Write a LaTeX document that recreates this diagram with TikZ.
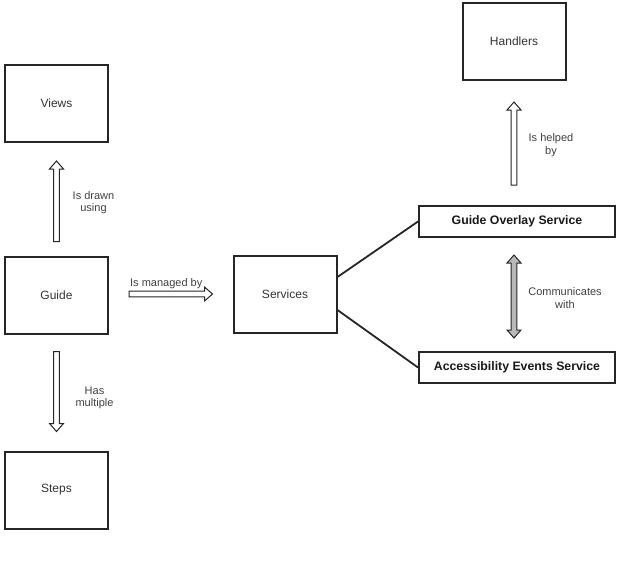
\documentclass[tikz,border=0pt]{standalone}
\usepackage{fontspec}
\setmainfont{Liberation Sans}
\usetikzlibrary{calc}
\begin{document}
\begin{tikzpicture}[x=1pt,y=-1pt,
  box/.style={draw=black!85, line width=2pt, inner sep=0pt, text=black!80,
    font=\fontsize{12}{14}\selectfont},
  bigbox/.style={box, minimum width=103pt, minimum height=77pt},
  widebox/.style={box, minimum width=196pt, minimum height=31pt,
    font=\fontsize{12.3}{14}\bfseries\selectfont, text=black!90},
  hollow/.style={draw=black!85, line width=1pt, fill=white, line join=miter,
    to path={
      ($(\tikztostart)!2.8pt!90:(\tikztotarget)$) --
      ($(\tikztotarget)!8pt!(\tikztostart)!2.8pt!90:(\tikztotarget)$) --
      ($(\tikztotarget)!8pt!(\tikztostart)!7pt!90:(\tikztotarget)$) --
      (\tikztotarget) --
      ($(\tikztotarget)!8pt!(\tikztostart)!7pt!-90:(\tikztotarget)$) --
      ($(\tikztotarget)!8pt!(\tikztostart)!2.8pt!-90:(\tikztotarget)$) --
      ($(\tikztostart)!2.8pt!-90:(\tikztotarget)$) -- cycle}},
  hollowboth/.style={draw=black!85, line width=1pt, fill=gray!55, line join=miter,
    to path={
      (\tikztostart) --
      ($(\tikztostart)!8pt!(\tikztotarget)!7pt!-90:(\tikztotarget)$) --
      ($(\tikztostart)!8pt!(\tikztotarget)!2.8pt!-90:(\tikztotarget)$) --
      ($(\tikztotarget)!8pt!(\tikztostart)!2.8pt!-90:(\tikztotarget)$) --
      ($(\tikztotarget)!8pt!(\tikztostart)!7pt!-90:(\tikztotarget)$) --
      (\tikztotarget) --
      ($(\tikztotarget)!8pt!(\tikztostart)!7pt!90:(\tikztotarget)$) --
      ($(\tikztotarget)!8pt!(\tikztostart)!2.8pt!90:(\tikztotarget)$) --
      ($(\tikztostart)!8pt!(\tikztotarget)!2.8pt!90:(\tikztotarget)$) --
      ($(\tikztostart)!8pt!(\tikztotarget)!7pt!90:(\tikztotarget)$) -- cycle}},
  lbl/.style={text=black!75, font=\fontsize{11}{12.5}\selectfont, align=center, inner sep=0pt},
  link/.style={draw=black!85, line width=1.8pt}
]
\useasboundingbox (0,0) rectangle (624,566);

\node[bigbox] (views) at (56.5,103.5) {Views};
\node[bigbox] (guide) at (56.5,295) {Guide};
\node[bigbox] (steps) at (56.5,490) {Steps};
\node[bigbox] (services) at (285,294) {Services};
\node[bigbox] (handlers) at (514,41.5) {Handlers};
\node[widebox] (gos) at (517,221.5) {Guide Overlay Service};
\node[widebox] (aes) at (517,367.5) {Accessibility Events Service};

% arrow end points
\coordinate (gv1) at ([yshift=14pt]guide.north);
\coordinate (gv2) at ([yshift=-18pt]views.south);
\coordinate (gs1) at ([xshift=20pt]guide.east |- services.west);
\coordinate (gs2) at ([xshift=-20pt]services.west);
\coordinate (gt1) at ([yshift=-17pt]guide.south);
\coordinate (gt2) at ([yshift=19pt]steps.north);
\coordinate (gh1) at ([yshift=20pt]gos.north -| handlers.south);
\coordinate (gh2) at ([yshift=-21pt]handlers.south);
\coordinate (ga1) at ([xshift=-3pt,yshift=-17pt]gos.south);
\coordinate (ga2) at ([xshift=-3pt,yshift=13pt]aes.north);

\draw[hollow] (gv1) to (gv2);
\draw[hollow] (gs1) to (gs2);
\draw[hollow] (gt1) to (gt2);
\draw[hollow] (gh1) to (gh2);
\draw[hollowboth] (ga1) to (ga2);

\node[lbl] (l1) at ($(gv1)!0.5!(gv2)+(37,1.5)$) {Is drawn\\using};
\node[lbl] (l2) at ($(gs1)!0.5!(gs2)+(-4.5,-10)$) {Is managed by};
\node[lbl] (l3) at ($(gt1)!0.5!(gt2)+(38,6.5)$) {Has\\multiple};
\node[lbl] (l4) at ($(gh1)!0.5!(gh2)+(37,1.5)$) {Is helped\\by};
\node[lbl] (l5) at ($(ga1)!0.5!(ga2)+(51,1.5)$) {Communicates\\with};

\draw[link] ([yshift=17pt]services.east) -- (gos.west);
\draw[link] ([yshift=-16pt]services.east) -- (aes.west);
\end{tikzpicture}
\end{document}
